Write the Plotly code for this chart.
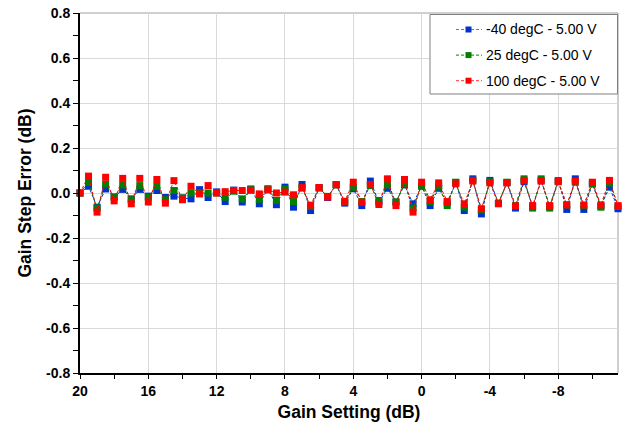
import plotly.graph_objects as go

gain_setting = [20 - 0.5 * i for i in range(64)]

err_m40 = [0, 0.03, -0.063, 0.018, -0.018, 0.016, -0.026, 0.016, -0.014, 0.011,
           -0.02, -0.014, -0.022, -0.026, 0.015, -0.02, 0.005, -0.038, 0.013, -0.04,
           0.018, -0.048, 0.018, -0.052, 0.026, -0.063, 0.038, -0.078, 0.024, -0.02,
           0.037, -0.045, 0.019, -0.056, 0.053, -0.041, 0.021, -0.04, 0.036, -0.048,
           0.03, -0.056, 0.021, -0.044, 0.046, -0.078, 0.063, -0.093, 0.056, -0.046,
           0.046, -0.067, 0.05, -0.06, 0.055, -0.06, 0.055, -0.073, 0.063, -0.073,
           0.04, -0.058, 0.026, -0.07]

err_25 = [0, 0.048, -0.067, 0.04, -0.018, 0.036, -0.03, 0.033, -0.018, 0.03,
          -0.03, 0.011, -0.022, 0, 0, 0, 0, -0.019, 0.008, -0.026,
          0.015, -0.028, 0.018, -0.033, 0.018, -0.038, 0.022, -0.06, 0.022, -0.015,
          0.036, -0.04, 0.026, -0.038, 0.033, -0.033, 0.036, -0.04, 0.041, -0.067,
          0.033, -0.038, 0.03, -0.056, 0.048, -0.063, 0.056, -0.075, 0.05, -0.045,
          0.048, -0.056, 0.063, -0.067, 0.063, -0.067, 0.05, -0.053, 0.048, -0.056,
          0.041, -0.063, 0.045, -0.06]

err_100 = [0, 0.075, -0.085, 0.07, -0.035, 0.065, -0.048, 0.065, -0.04, 0.06,
           -0.045, 0.055, -0.03, 0.03, -0.004, 0.033, 0, 0.006, 0.011, 0.011,
           0.012, -0.004, 0.014, 0, 0.004, -0.008, 0.024, -0.054, 0.024, -0.018,
           0.037, -0.037, 0.048, -0.041, 0.038, -0.051, 0.063, -0.056, 0.06, -0.085,
           0.048, -0.03, 0.045, -0.038, 0.041, -0.048, 0.053, -0.07, 0.045, -0.048,
           0.045, -0.058, 0.056, -0.056, 0.053, -0.056, 0.051, -0.053, 0.053, -0.053,
           0.048, -0.053, 0.056, -0.056]

series_names = ["-40 degC - 5.00 V", "25 degC - 5.00 V", "100 degC - 5.00 V"]
series_colors = ["#0033CC", "#008000", "#FF0000"]
legend_line_colors = ["#4D7BE6", "#008000", "#FF3333"]
series_values = [err_m40, err_25, err_100]

x_tick_vals = [20, 16, 12, 8, 4, 0, -4, -8]
x_tick_text = ["20", "16", "12", "8", "4", "0", "-4", "-8"]
y_tick_vals = [-0.8, -0.6, -0.4, -0.2, 0.0, 0.2, 0.4, 0.6, 0.8]
y_tick_text = ["-0.8", "-0.6", "-0.4", "-0.2", "0.0", "0.2", "0.4", "0.6", "0.8"]

FONT = "Liberation Sans, Arial, sans-serif"
LEG_FONT = "Liberation Sans Narrow, Arial Narrow, Liberation Sans, sans-serif"

FIG_W, FIG_H = 623, 433
L, R, T, B = 80, 5, 13, 60

fig = go.Figure()
for name, color, vals in zip(series_names, series_colors, series_values):
    fig.add_trace(go.Scatter(
        x=gain_setting, y=vals, name=name, mode="lines+markers",
        line=dict(color=color, width=1, dash="3px,2px"),
        marker=dict(symbol="square", size=7, color=color),
        showlegend=False, cliponaxis=False,
    ))

fig.update_layout(
    width=FIG_W, height=FIG_H,
    paper_bgcolor="white", plot_bgcolor="white",
    margin=dict(l=L, r=R, t=T, b=B, autoexpand=False),
    font=dict(family=FONT, color="black"),
    showlegend=False,
    xaxis=dict(
        range=[20, -11.5], automargin=False,
        tickmode="array", tickvals=x_tick_vals,
        ticktext=["<b>" + t + "</b>" for t in x_tick_text],
        ticklabeloverflow="allow",
        showgrid=True, gridcolor="#D9D9D9", gridwidth=1,
        showline=True, linecolor="black", linewidth=2,
        ticks="outside", ticklen=4, tickcolor="black", tickwidth=1,
        minor=dict(tickmode="linear", tick0=20, dtick=2, ticks="outside", ticklen=4,
                   tickcolor="black", showgrid=False),
        tickfont=dict(size=14, family=FONT),
        title=dict(text="<b>Gain Setting (dB)</b>", font=dict(size=17.5), standoff=8),
        zeroline=False,
    ),
    yaxis=dict(
        range=[-0.8, 0.8], automargin=False,
        tickmode="array", tickvals=y_tick_vals,
        ticktext=["<b>" + t + "</b>" for t in y_tick_text],
        ticklabeloverflow="allow",
        showgrid=True, gridcolor="#D9D9D9", gridwidth=1,
        showline=True, linecolor="black", linewidth=2,
        ticks="outside", ticklen=5, tickcolor="black", tickwidth=1,
        minor=dict(tickmode="linear", tick0=-0.8, dtick=0.1, ticks="outside", ticklen=5,
                   tickcolor="black", showgrid=False),
        tickfont=dict(size=14, family=FONT),
        title=dict(text="<b>Gain Step Error (dB)</b>", font=dict(size=17.5), standoff=10),
        zeroline=False,
    ),
)

# right and top borders of the plot area
fig.add_shape(type="line", xref="paper", yref="paper", x0=1, x1=1, y0=0, y1=1,
              line=dict(color="#A0A0A0", width=1), layer="below")
fig.add_shape(type="line", xref="paper", yref="paper", x0=0, x1=1, y0=1, y1=1,
              line=dict(color="#A0A0A0", width=1), layer="below")

# legend box (drawn manually in paper coordinates; px given in page coords)
PW, PH = float(FIG_W - L - R), float(FIG_H - T - B)
def px_x(px):
    return (px - L) / PW
def px_y(py):
    return 1 - (py - T) / PH

fig.add_shape(type="rect", xref="paper", yref="paper",
              x0=px_x(430), x1=px_x(617.5), y0=px_y(94), y1=px_y(14.5),
              line=dict(color="#808080", width=1), fillcolor="white", layer="above")
for k, (name, color, lcolor) in enumerate(zip(series_names, series_colors, legend_line_colors)):
    yy = px_y(29.5 + 25.6 * k)
    fig.add_shape(type="line", xref="paper", yref="paper",
                  x0=px_x(456), x1=px_x(482), y0=yy, y1=yy,
                  line=dict(color=lcolor, width=1, dash="3px,2px"), layer="above")
    fig.add_shape(type="rect", xref="paper", yref="paper",
                  x0=px_x(465.5), x1=px_x(471.5),
                  y0=yy - 3 / PH, y1=yy + 3 / PH,
                  line=dict(width=0), fillcolor=color, layer="above")
    fig.add_annotation(xref="paper", yref="paper", x=px_x(484), y=yy,
                       xanchor="left", yanchor="middle", showarrow=False,
                       text=name, font=dict(size=14, family=LEG_FONT, color="black"))

# remove the default 8px page margin so the figure sits at the window's corner
fig.write_html("out.html", config={"displayModeBar": False},
               post_script="document.body.style.margin='0px';")
